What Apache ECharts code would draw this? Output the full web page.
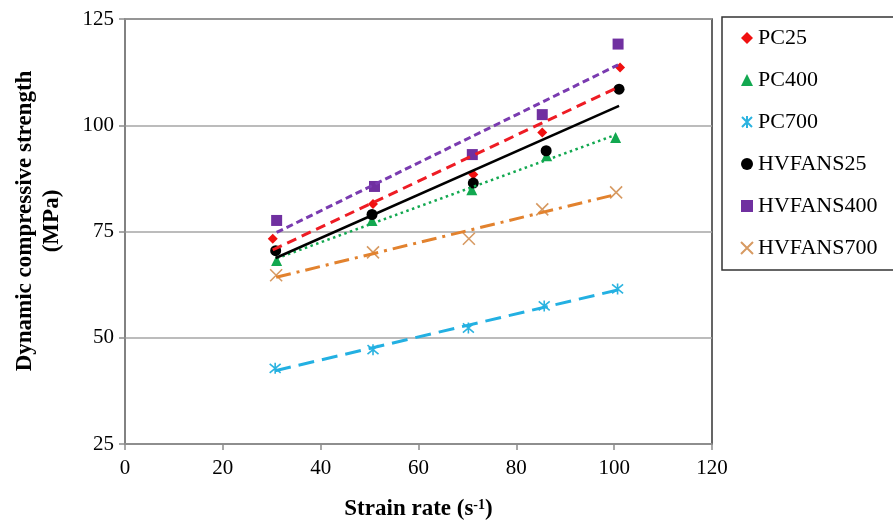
<!DOCTYPE html>
<html>
<head>
<meta charset="utf-8">
<script src="https://cdn.jsdelivr.net/npm/echarts@6/dist/echarts.min.js"></script>
<style>html,body{margin:0;padding:0;background:#fff}#c{width:893px;height:520px}</style>
</head>
<body>
<div id="c"></div>
<script>
// ---- data ----
const seriesNames = ['PC25', 'PC400', 'PC700', 'HVFANS25', 'HVFANS400', 'HVFANS700'];
const xPC25 = [30.2, 50.7, 71.2, 85.3, 101.2];
const yPC25 = [73.3, 81.5, 88.4, 98.3, 113.6];
const xPC400 = [31.0, 50.5, 70.9, 86.2, 100.3];
const yPC400 = [68.2, 77.6, 84.8, 92.8, 97.1];
const xPC700 = [30.7, 50.7, 70.2, 85.7, 100.7];
const yPC700 = [42.8, 47.2, 52.3, 57.5, 61.5];
const xHV25 = [30.8, 50.5, 71.2, 86.1, 101.0];
const yHV25 = [70.5, 79.0, 86.4, 94.0, 108.5];
const xHV400 = [31.0, 51.0, 71.0, 85.3, 100.8];
const yHV400 = [77.6, 85.6, 93.1, 102.5, 119.1];
const xHV700 = [30.9, 50.7, 70.3, 85.3, 100.4];
const yHV700 = [64.7, 70.1, 73.3, 80.2, 84.2];
const xTickValues = [0, 20, 40, 60, 80, 100, 120];
const yTickValues = [25, 50, 75, 100, 125];

const FONT = 'Liberation Serif';
const xs = [xPC25, xPC400, xPC700, xHV25, xHV400, xHV700];
const ys = [yPC25, yPC400, yPC700, yHV25, yHV400, yHV700];

const markerColors = ['#f01010', '#12a850', '#2bb3e0', '#000000', '#7030a0', '#d79a62'];
const lineColors = ['#ee1c24', '#12a850', '#23b0e2', '#000000', '#7a3bb0', '#e2822e'];
const symbols = [
  'diamond', 'triangle',
  'path://M0,0L10,10M10,0L0,10M5,-1L5,11',
  'circle', 'rect',
  'path://M0,0L10,10M10,0L0,10'
];
const symbolSizes = [10, 11, 11, 11, 11, 12];
const lineTypes = [[10, 6], [2.5, 3.5], [16, 8], 'solid', [7, 4], [15, 6, 3, 6]];
const lineWidths = [3, 2.5, 3, 2.5, 3, 3];

function fit(x, y) {
  const n = x.length;
  const mx = x.reduce((a, b) => a + b, 0) / n;
  const my = y.reduce((a, b) => a + b, 0) / n;
  let sxy = 0, sxx = 0;
  for (let i = 0; i < n; i++) { sxy += (x[i] - mx) * (y[i] - my); sxx += (x[i] - mx) ** 2; }
  const b = sxy / sxx, a = my - b * mx;
  const x0 = Math.min(...x), x1 = Math.max(...x);
  return [[x0, a + b * x0], [x1, a + b * x1]];
}

const series = [];
seriesNames.forEach((name, i) => {
  const stroke = symbols[i].startsWith('path');
  series.push({
    name: name,
    type: 'scatter',
    data: xs[i].map((v, j) => [v, ys[i][j]]),
    symbol: symbols[i],
    symbolSize: symbolSizes[i],
    itemStyle: stroke
      ? { color: 'rgba(0,0,0,0)', borderColor: markerColors[i], borderWidth: 1.6, opacity: 1 }
      : { color: markerColors[i], opacity: 1 },
    z: 2
  });
});
seriesNames.forEach((name, i) => {
  series.push({
    name: name + ' trend',
    type: 'line',
    data: fit(xs[i], ys[i]),
    showSymbol: false,
    symbol: 'none',
    lineStyle: { color: lineColors[i], width: lineWidths[i], type: lineTypes[i], cap: 'butt' },
    z: 3,
    silent: true
  });
});

const chart = echarts.init(document.getElementById('c'), null, { renderer: 'canvas' });
chart.setOption({
  animation: false,
  backgroundColor: '#fff',
  grid: {
    left: 125, right: 181, top: 19, bottom: 76,
    outerBoundsMode: 'none', containLabel: false,
    show: true, borderColor: '#333', borderWidth: 1.5, backgroundColor: 'transparent'
  },
  xAxis: {
    type: 'value', min: xTickValues[0], max: xTickValues[xTickValues.length - 1], interval: 20,
    axisLine: { show: true, lineStyle: { color: '#8c8c8c', width: 1.5 } },
    axisTick: { show: true, inside: false, length: 6, lineStyle: { color: '#8c8c8c', width: 1.5 } },
    splitLine: { show: false },
    axisLabel: { fontFamily: FONT, fontSize: 21, color: '#000', margin: 14 },
    name: 'Strain rate (s{sup|-1})',
    nameLocation: 'middle',
    nameGap: 54,
    nameTextStyle: {
      fontFamily: FONT, fontSize: 23, fontWeight: 'bold', color: '#000',
      rich: { sup: { fontFamily: FONT, fontSize: 14, fontWeight: 'bold', color: '#000', verticalAlign: 'top', lineHeight: 14, padding: [0, 0, 10, 0] } }
    }
  },
  yAxis: {
    type: 'value', min: yTickValues[0], max: yTickValues[yTickValues.length - 1], interval: 25,
    axisLine: { show: true, lineStyle: { color: '#8c8c8c', width: 1.5 } },
    axisTick: { show: true, inside: false, length: 6, lineStyle: { color: '#8c8c8c', width: 1.5 } },
    splitLine: { show: true, lineStyle: { color: '#a6a6a6', width: 1.5 } },
    axisLabel: { fontFamily: FONT, fontSize: 21, color: '#000', margin: 11 }
  },
  legend: {
    data: seriesNames,
    orient: 'vertical',
    left: 722, top: 17,
    padding: [10, 30, 11, 18],
    itemGap: 20,
    itemWidth: 12, itemHeight: 12,
    borderColor: '#333', borderWidth: 1.5,
    textStyle: { fontFamily: FONT, fontSize: 22, color: '#000', lineHeight: 22 }
  },
  graphic: [{
    type: 'text',
    x: 39, y: 221,
    rotation: Math.PI / 2,
    style: {
      text: 'Dynamic compressive strength\n(MPa)',
      fontFamily: FONT, fontSize: 23, fontWeight: 'bold', fill: '#000',
      align: 'center', verticalAlign: 'middle', lineHeight: 27
    }
  }],
  series: series
});
</script>
</body>
</html>
